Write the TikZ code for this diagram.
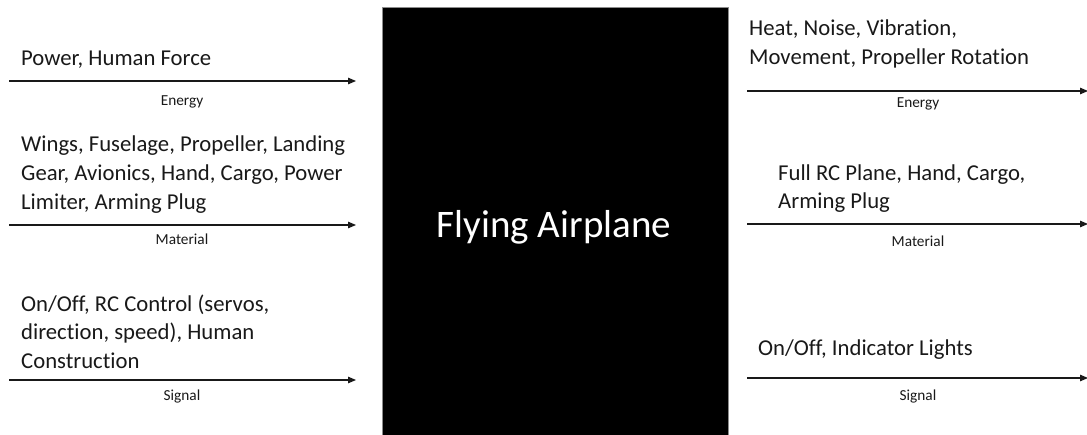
\documentclass[tikz,border=0pt]{standalone}
\usepackage{fontspec}
\setmainfont[Ligatures={NoCommon}]{Carlito}
\usetikzlibrary{arrows.meta}
\begin{document}
\begin{tikzpicture}[x=1pt,y=-1pt,
  flow/.style={line width=1.1pt, draw=black!90, -{Triangle[length=8pt,width=6.5pt]}},
  itemtxt/.style={anchor=base west, inner sep=0pt, align=left, font=\fontsize{22.7}{29}\selectfont, text=black!90},
  kind/.style={anchor=base, inner sep=0pt, font=\fontsize{15.3}{17}\selectfont, text=black!90}]
\useasboundingbox (0,0) rectangle (1087,434);
\fill[white] (0,0) rectangle (1087,434);
% central system box
\node[fill=black, draw=black!45, line width=0.6pt, minimum width=346pt, minimum height=430pt,
      anchor=north west, inner sep=0pt] (sys) at (382,7) {};
\node[text=white, font=\fontsize{39}{44}\selectfont, anchor=base, inner sep=0pt] (title) at (554,237) {Flying Airplane};
% left side inputs
\coordinate (eInS) at (9,81);   \coordinate (eInE) at (356,81);
\coordinate (mInS) at (9,225);  \coordinate (mInE) at (356,225);
\coordinate (sInS) at (9,380);  \coordinate (sInE) at (356,380);
\draw[flow] (eInS) -- (eInE);
\draw[flow] (mInS) -- (mInE);
\draw[flow] (sInS) -- (sInE);
\node[itemtxt] (eInT) at (21,65) {Power, Human Force};
\node[itemtxt] (mInT) at (21,209) {Wings, Fuselage, Propeller, Landing\\Gear, Avionics, Hand, Cargo, Power\\Limiter, Arming Plug};
\node[itemtxt, font=\fontsize{22.7}{28.5}\selectfont] (sInT) at (21,368) {On/Off, RC Control (servos,\\direction, speed), Human\\Construction};
\node[kind] (eInK) at (182,105) {Energy};
\node[kind] (mInK) at (182,244) {Material};
\node[kind] (sInK) at (182,400) {Signal};
% right side outputs
\coordinate (eOutS) at (747,91);   \coordinate (eOutE) at (1088,91);
\coordinate (mOutS) at (747,224);  \coordinate (mOutE) at (1088,224);
\coordinate (sOutS) at (747,378);  \coordinate (sOutE) at (1088,378);
\draw[flow] (eOutS) -- (eOutE);
\draw[flow] (mOutS) -- (mOutE);
\draw[flow] (sOutS) -- (sOutE);
\node[itemtxt] (eOutT) at (749,64) {Heat, Noise, Vibration,\\Movement, Propeller Rotation};
\node[itemtxt, font=\fontsize{22.7}{28}\selectfont] (mOutT) at (778,208.5) {Full RC Plane, Hand, Cargo,\\Arming Plug};
\node[itemtxt] (sOutT) at (758,355.5) {On/Off, Indicator Lights};
\node[kind] (eOutK) at (918,107) {Energy};
\node[kind] (mOutK) at (918,246) {Material};
\node[kind] (sOutK) at (918,400) {Signal};
\end{tikzpicture}
\end{document}
